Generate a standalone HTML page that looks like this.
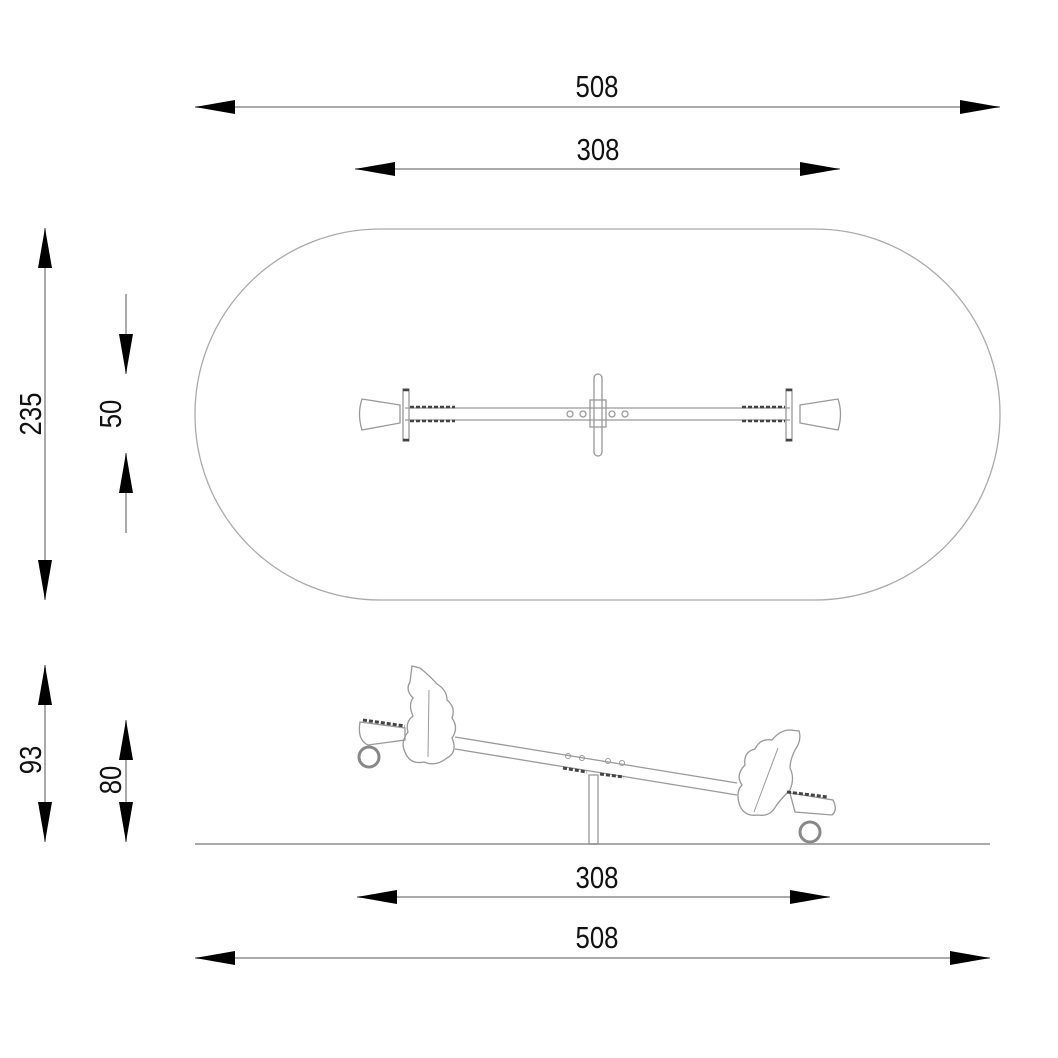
<!DOCTYPE html>
<html><head><style>html,body{margin:0;padding:0;background:#fff}svg{display:block}</style></head>
<body>
<svg width="1058" height="1058" viewBox="0 0 1058 1058" xmlns="http://www.w3.org/2000/svg">
<defs>
<g id="al"><polygon points="0,0 40,-7 40,7" fill="#000"/></g>
</defs>
<g stroke="#aaa" stroke-width="2" fill="none">
<line x1="195" y1="107" x2="1000" y2="107"/>
<line x1="355" y1="169" x2="840" y2="169"/>
<line x1="45" y1="228" x2="45" y2="600"/>
<line x1="126" y1="294" x2="126" y2="374"/>
<line x1="126" y1="453" x2="126" y2="533"/>
<line x1="45" y1="665" x2="45" y2="842"/>
<line x1="126" y1="720" x2="126" y2="842"/>
<line x1="357" y1="897" x2="830" y2="897"/>
<line x1="195" y1="958" x2="990" y2="958"/>
<line x1="195" y1="844" x2="990" y2="844"/>
</g>
<!-- arrows -->
<g fill="#000">
<polygon points="195,107 235,100 235,114"/><polygon points="1000,107 960,100 960,114"/>
<polygon points="355,169 395,162 395,176"/><polygon points="840,169 800,162 800,176"/>
<polygon points="45,228 38,268 52,268"/><polygon points="45,600 38,560 52,560"/>
<polygon points="126,374 119,334 133,334"/><polygon points="126,453 119,493 133,493"/>
<polygon points="45,665 38,705 52,705"/><polygon points="45,842 38,802 52,802"/>
<polygon points="126,720 119,760 133,760"/><polygon points="126,842 119,802 133,802"/>
<polygon points="357,897 397,890 397,904"/><polygon points="830,897 790,890 790,904"/>
<polygon points="195,958 235,951 235,965"/><polygon points="990,958 950,951 950,965"/>
</g>
<g font-family="'Liberation Sans Narrow','Liberation Sans',sans-serif" font-size="31" fill="#111" text-anchor="middle">
<text transform="translate(597,97) scale(0.83,1)">508</text>
<text transform="translate(598,160) scale(0.83,1)">308</text>
<text transform="translate(597,888) scale(0.83,1)">308</text>
<text transform="translate(597,948) scale(0.83,1)">508</text>
<text transform="translate(41,414) rotate(-90) scale(0.83,1)">235</text>
<text transform="translate(121,414) rotate(-90) scale(0.83,1)">50</text>
<text transform="translate(41,760) rotate(-90) scale(0.83,1)">93</text>
<text transform="translate(121,780) rotate(-90) scale(0.83,1)">80</text>
</g>
<!-- oval -->
<rect x="195" y="229" width="805" height="371" rx="185" ry="185" fill="none" stroke="#aaa" stroke-width="1.3"/>
<!-- top view seesaw -->
<g stroke="#999" stroke-width="1.3" fill="none">
<line x1="405" y1="408" x2="790" y2="408"/>
<line x1="405" y1="420" x2="790" y2="420"/>
<path d="M362,399 L400,405 L400,423 L362,430 Q357,414 362,399Z"/>
<path d="M838,399 L800,405 L800,423 L838,430 Q843,414 838,399Z"/>
<rect x="403" y="389" width="6" height="52"/>
<rect x="786" y="389" width="6" height="52"/>
<rect x="594" y="374" width="8" height="82" rx="4"/>
<rect x="590" y="400" width="16" height="27"/>
<circle cx="570" cy="414" r="3"/><circle cx="583" cy="414" r="3"/>
<circle cx="612" cy="414" r="3"/><circle cx="625" cy="414" r="3"/>
</g>
<g stroke="#444" stroke-width="2.5">
<line x1="410" y1="407" x2="455" y2="407" stroke-dasharray="4,2"/>
<line x1="410" y1="421" x2="455" y2="421" stroke-dasharray="4,2"/>
<line x1="742" y1="407" x2="785" y2="407" stroke-dasharray="4,2"/>
<line x1="742" y1="421" x2="785" y2="421" stroke-dasharray="4,2"/>
<line x1="403" y1="390" x2="409" y2="390"/><line x1="403" y1="440" x2="409" y2="440"/>
<line x1="786" y1="390" x2="792" y2="390"/><line x1="786" y1="440" x2="792" y2="440"/>
</g>
<!-- side view -->
<g stroke="#999" stroke-width="1.3" fill="none">
<line x1="455" y1="737" x2="737" y2="783"/>
<line x1="455" y1="749" x2="737" y2="795"/>
<rect x="589" y="775" width="9" height="69"/>
<path d="M412,666 L420,668 Q430,676 437,684 Q447,690 447,700 Q456,707 452,718 Q459,728 452,738 Q458,752 447,758 Q436,767 424,762 Q410,765 405,752 Q400,742 408,732 Q405,722 413,716 Q408,705 413,698 Q405,690 410,682Z"/>
<path d="M790,730 L799,731 Q802,740 795,750 Q790,760 790,768 Q795,778 790,790 Q780,800 776,806 Q770,817 758,815 Q745,817 740,806 Q735,792 742,785 Q735,775 745,765 Q743,752 755,749 Q760,738 772,740 Q780,730 790,730Z"/>
<path d="M360,722 L405,728 L405,740 L368,745 Q357,740 360,722Z"/>
<path d="M790,793 L833,800 Q838,810 832,815 L795,812Z"/>
</g>
<g stroke="#888" stroke-width="3" fill="none">
<circle cx="369" cy="757" r="10"/>
<circle cx="810" cy="832" r="10"/>
</g>
<g stroke="#444" stroke-width="3">
<line x1="363" y1="720" x2="405" y2="726" stroke-dasharray="4,2"/>
<line x1="787" y1="792" x2="828" y2="797" stroke-dasharray="4,2"/>
<line x1="563" y1="768" x2="587" y2="772" stroke-dasharray="4,2"/>
<line x1="600" y1="774" x2="624" y2="777" stroke-dasharray="4,2"/>
</g>
<g stroke="#999" stroke-width="1" fill="none">
<circle cx="568" cy="756" r="2.5"/><circle cx="582" cy="758" r="2.5"/>
<circle cx="608" cy="761" r="2.5"/><circle cx="622" cy="763" r="2.5"/>
<line x1="429" y1="690" x2="428" y2="757"/>
<line x1="778" y1="748" x2="754" y2="812"/>
</g>
</svg>
</body></html>
